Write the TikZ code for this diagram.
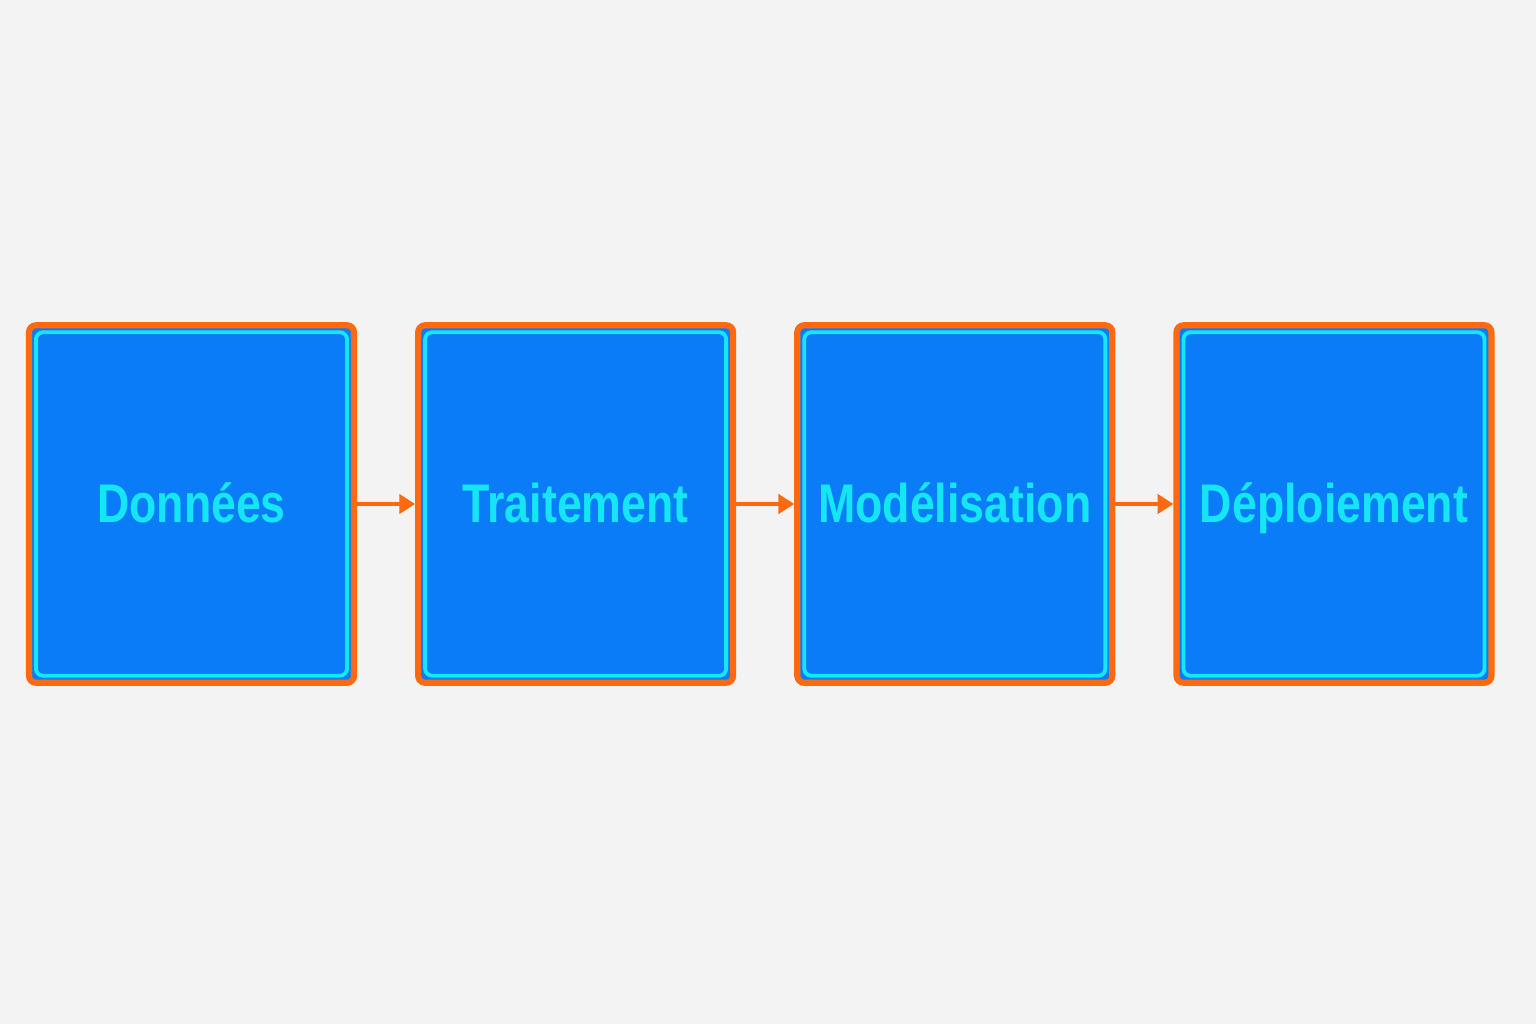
\documentclass[tikz,border=0pt]{standalone}
\usepackage{fontspec}
\newfontfamily\stagefont[FakeStretch=0.82]{Liberation Sans}
\usetikzlibrary{positioning, arrows.meta}
\definecolor{bgray}{HTML}{F3F3F3}
\definecolor{bblue}{HTML}{0A7CF8}
\definecolor{borange}{HTML}{FF6A10}
\definecolor{bcyan}{HTML}{14E6F5}
\tikzset{
  stage/.style={rectangle, rounded corners=4pt, minimum width=6.3cm, minimum height=7.15cm,
    draw=borange, line width=3.5pt, fill=bblue, text=bcyan, text height=0.75cm, text depth=0cm,
    font=\stagefont\bfseries\fontsize{31}{36}\selectfont,
    path picture={\draw[bcyan, line width=2.2pt]
      ([shift={(0.14cm,0.14cm)}]path picture bounding box.south west) rectangle
      ([shift={(-0.14cm,-0.14cm)}]path picture bounding box.north east);}},
  arrow/.style={borange, line width=2pt, -{Triangle[length=9pt,width=11pt]}}
}
\begin{document}
\begin{tikzpicture}[node distance=1.16cm]
    \fill[bgray] (0,0) rectangle (30.72,20.48);
    \useasboundingbox (0,0) rectangle (30.72,20.48);

    \node (data) [stage, minimum width=6.5cm] at (3.83,10.4) {Données};
    \node (proc) [stage, right=of data] {Traitement};
    \node (model) [stage, right=of proc] {Modélisation};
    \node (deploy) [stage, right=of model] {Déploiement};

    \draw[arrow] (data) -- (proc);
    \draw[arrow] (proc) -- (model);
    \draw[arrow] (model) -- (deploy);
\end{tikzpicture}
\end{document}
